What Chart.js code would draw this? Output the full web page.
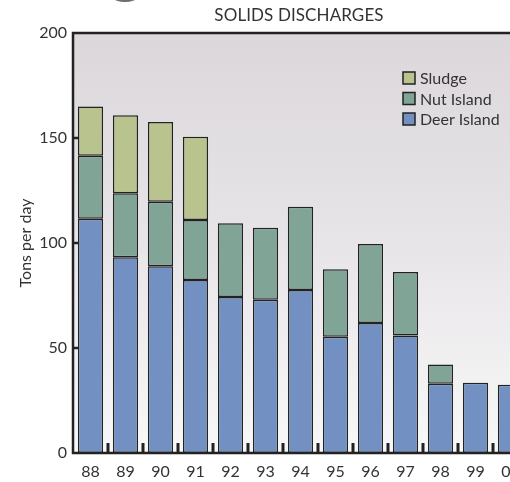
<!DOCTYPE html>
<html>
<head>
<meta charset="utf-8">
<script src="https://cdn.jsdelivr.net/npm/chart.js@4/dist/chart.umd.min.js"></script>
<style>
  html, body { margin: 0; padding: 0; background: #ffffff; overflow: hidden; width: 510px; height: 482px; }
  #wrap { position: relative; width: 540px; height: 482px; }
  #title { position: absolute; top: 4px; left: 199px; width: 200px; text-align: center;
           font-family: Lato, "Open Sans", sans-serif; font-size: 17px; color: #333; letter-spacing: 0.1px; }
  #deco { position: absolute; left: 102px; top: -38px; width: 46px; height: 40px; border-radius: 50%;
          border-bottom: 4px solid #6e6e6e; box-sizing: border-box; }
</style>
</head>
<body>
<div id="wrap">
  <canvas id="c" width="540" height="482"></canvas>
  <div id="deco"></div>
  <div id="title">SOLIDS DISCHARGES</div>
</div>
<script>
const categories = ["88","89","90","91","92","93","94","95","96","97","98","99","00"];
const deerIsland = [111.6, 93.2, 88.9, 82.4, 74.3, 73.0, 77.6, 55.4, 61.9, 55.9, 33.0, 33.5, 32.5];
const nutIsland  = [30.0, 30.5, 30.8, 28.6, 35.1, 34.3, 39.7, 32.1, 37.6, 30.3, 9.2, 0, 0];
const sludge     = [23.4, 37.1, 37.9, 39.6, 0, 0, 0, 0, 0, 0, 0, 0, 0];
const yTicks = [0, 50, 100, 150, 200];

const FONT = 'Lato, "Open Sans", sans-serif';
const INK = '#222222';
const TXT = '#333333';

const framePlugin = {
  id: 'frame',
  beforeDatasetsDraw(chart) {
    const {ctx, chartArea: a} = chart;
    const g = ctx.createLinearGradient(0, a.top, 0, a.bottom);
    g.addColorStop(0, '#dbd7da');
    g.addColorStop(0.45, '#e6e3e6');
    g.addColorStop(1, '#f8f8f8');
    ctx.save();
    ctx.fillStyle = g;
    ctx.fillRect(a.left, a.top, a.right - a.left, a.bottom - a.top);
    ctx.restore();
  },
  afterDatasetsDraw(chart) {
    const {ctx, chartArea: a, scales} = chart;
    ctx.save();
    ctx.strokeStyle = INK;
    ctx.lineWidth = 2.5;
    ctx.beginPath();
    ctx.moveTo(a.right + 5, a.top);
    ctx.lineTo(a.left, a.top);
    ctx.lineTo(a.left, a.bottom);
    ctx.lineTo(a.right + 5, a.bottom);
    ctx.stroke();
    // inner y ticks
    ctx.lineWidth = 2.5;
    yTicks.forEach(v => {
      if (v === 0 || v === 200) return;
      const y = scales.y.getPixelForValue(v);
      ctx.beginPath();
      ctx.moveTo(a.left, y);
      ctx.lineTo(a.left + 5, y);
      ctx.stroke();
    });
    // inner x ticks at category boundaries
    const xs = scales.x;
    ctx.lineWidth = 3;
    for (let i = 0; i < categories.length - 1; i++) {
      const x = Math.round((xs.getPixelForValue(i) + xs.getPixelForValue(i + 1)) / 2);
      ctx.beginPath();
      ctx.moveTo(x, a.bottom);
      ctx.lineTo(x, a.bottom - 10);
      ctx.stroke();
    }
    // legend
    const items = [
      {label: 'Sludge', color: '#b9c38d'},
      {label: 'Nut Island', color: '#80a596'},
      {label: 'Deer Island', color: '#7291c2'}
    ];
    ctx.font = '16px ' + FONT;
    ctx.textBaseline = 'middle';
    items.forEach((it, i) => {
      const y = 78 + i * 20.5;
      ctx.fillStyle = it.color;
      ctx.fillRect(403, y - 6, 12, 12);
      ctx.lineWidth = 1.5;
      ctx.strokeStyle = INK;
      ctx.strokeRect(403, y - 6, 12, 12);
      ctx.fillStyle = TXT;
      ctx.fillText(it.label, 420, y + 1);
    });
    ctx.restore();
  }
};

const ds = (label, data, color) => ({
  label, data, backgroundColor: color, borderColor: INK, borderWidth: 1.5,
  borderSkipped: false, barPercentage: 0.72, categoryPercentage: 1.0
});

new Chart(document.getElementById('c'), {
  type: 'bar',
  data: {
    labels: categories,
    datasets: [
      ds('Deer Island', deerIsland, '#7291c2'),
      ds('Nut Island', nutIsland, '#80a596'),
      ds('Sludge', sludge, '#b9c38d')
    ]
  },
  options: {
    responsive: false,
    animation: false,
    layout: { padding: { top: 33, right: 12, left: 0, bottom: 0 } },
    plugins: { legend: { display: false }, tooltip: { enabled: false }, title: { display: false } },
    scales: {
      x: {
        stacked: true,
        grid: { display: false, drawTicks: false },
        border: { display: false },
        ticks: { color: TXT, font: { family: FONT, size: 16 }, padding: 9, maxRotation: 0, autoSkip: false },
        afterFit(s) { s.height = 29; }
      },
      y: {
        stacked: true,
        min: 0, max: 200,
        afterBuildTicks(s) { s.ticks = yTicks.map(v => ({value: v})); },
        grid: { display: false, drawTicks: false },
        border: { display: false },
        ticks: { color: TXT, font: { family: FONT, size: 16 }, padding: 6 },
        title: { display: true, text: 'Tons per day', color: TXT, font: { family: FONT, size: 16 }, padding: { top: 16, bottom: 0 } },
        afterFit(s) { s.width = 73; }
      }
    }
  },
  plugins: [framePlugin]
});
</script>
</body>
</html>
